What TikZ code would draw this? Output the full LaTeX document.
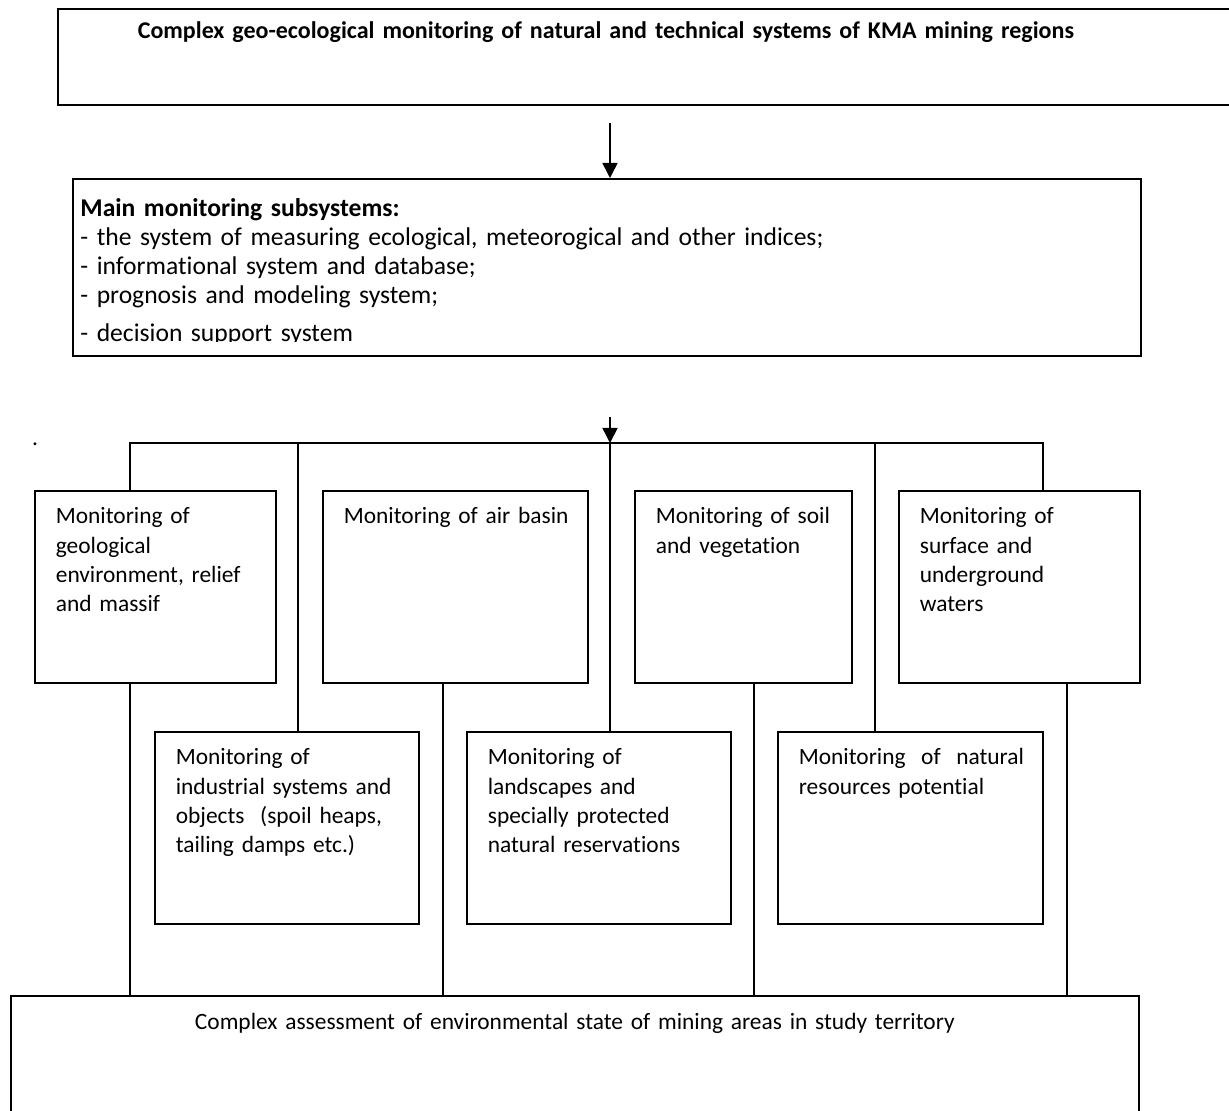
\documentclass[tikz,border=0pt]{standalone}
\usepackage{fontspec}
\setmainfont{Carlito}[Ligatures=NoCommon]
\usetikzlibrary{arrows.meta,positioning}

\begin{document}
\begin{tikzpicture}[
    x=0.5pt, y=-0.5pt,
    font=\fontsize{11.7pt}{14.6pt}\selectfont,
    frame/.style={draw, anchor=north west, inner sep=0pt, line width=0.85pt},
    mon/.style={frame, align=left, text width=#1, minimum width=#1+21pt, text height=16.5pt, text depth=79.5pt},
    link/.style={line width=0.7pt},
    arrow/.style={-{Triangle[length=7.5pt,width=7.5pt]}, line width=0.8pt}
]
\useasboundingbox (0,0) rectangle (1229,1111);
\clip (0,0) rectangle (1229,1111);

% top and bottom frames run off the page
\node[frame, align=left, text width=560pt, inner xsep=40pt, text height=15pt, text depth=33pt, font=\fontsize{12pt}{14.6pt}\selectfont\bfseries] (kma) at (57,8) {Complex geo-ecological monitoring of natural and technical systems of KMA mining regions};

\node[frame, minimum width=534pt, minimum height=88.5pt] (subs) at (72,178) {};
\begin{scope}
\clip (subs.north west) rectangle ([yshift=7.8pt]subs.south east);
\node[anchor=north west, inner xsep=4pt, inner ysep=0pt, align=left, text width=520pt, text height=19pt, font=\fontsize{12.8pt}{14.6pt}\selectfont] (substext) at (subs.north west) {\textbf{Main monitoring subsystems:}\\- the system of measuring ecological, meteorogical and other indices;\\- informational system and database;\\- prognosis and modeling system;\\[4.4pt]- decision support system};
\end{scope}

\coordinate (a1) at (610,123);
\coordinate (a2) at (610,417);
\node[inner sep=0pt, anchor=base] (dot) at (35,446) {.};

% upper row
\node[mon=99.5pt] (geo) at (34,490) {Monitoring of\\geological\\\mbox{environment, relief}\\and massif};
\node[mon=111.5pt] (air) at (322,490) {\mbox{Monitoring of air basin}};
\node[mon=87.5pt] (soil) at (634,490) {\mbox{Monitoring of soil}\\and vegetation};
\node[mon=99.5pt] (water) at (898,490) {Monitoring of\\surface and\\underground\\waters};

% lower row
\node[mon=111pt] (ind) at (154,731) {Monitoring of\\\mbox{industrial systems and}\\\mbox{objects~~(spoil heaps,}\\tailing damps etc.)};
\node[mon=111pt] (land) at (466,731) {Monitoring of\\landscapes and\\\mbox{specially protected}\\\mbox{natural reservations}};
\node[mon=111.5pt] (res) at (777,731) {\mbox{Monitoring~~of~~natural}\\resources potential};

\node[frame, align=center, text width=540pt, inner xsep=12pt, text height=17pt, text depth=58pt] (assess) at (10,995) {Complex assessment of environmental state of mining areas in study territory};

% bus
\coordinate (busL) at (130,443);
\coordinate (busR) at (1043,443);
\draw[arrow] (a1) -- (a1 |- subs.north);
\draw[arrow] (a2) -- (a2 |- busL);
\draw[link] (busL |- geo.north) -- (busL) -- (busR) -- (busR |- water.north);
\draw[link] (298,443) -- (298,443 |- ind.north);
\draw[link] (610,443) -- (610,443 |- land.north);
\draw[link] (875,443) -- (875,443 |- res.north);

\foreach \x/\n in {130/geo, 443/air, 754/soil, 1067/water}
  \draw[link] (\x,0 |- \n.south) -- (\x,0 |- assess.north);
\end{tikzpicture}
\end{document}
